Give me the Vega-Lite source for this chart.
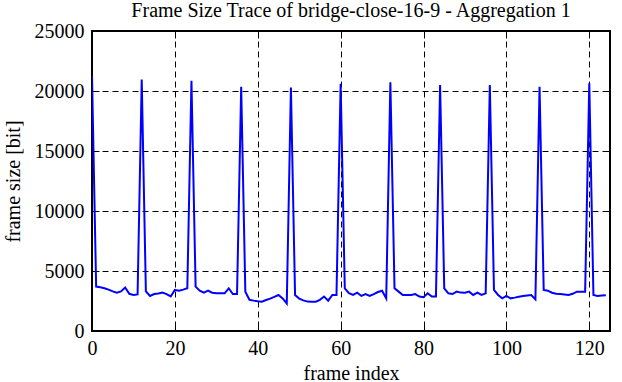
{
  "$schema": "https://vega.github.io/schema/vega-lite/v6.json",
  "width": 518,
  "height": 300,
  "autosize": {"type": "none"},
  "padding": {"left": 92, "top": 31, "right": 12, "bottom": 51},
  "title": {
    "text": "Frame Size Trace of bridge-close-16-9 - Aggregation 1",
    "fontSize": 20,
    "font": "Liberation Serif",
    "fontWeight": "normal",
    "color": "black",
    "baseline": "alphabetic",
    "offset": 4,
    "dy": 20,
    "anchor": "middle"
  },
  "config": {
    "font": "Liberation Serif",
    "view": {"stroke": "black", "strokeWidth": 2},
    "axis": {
      "labelFont": "Liberation Serif",
      "titleFont": "Liberation Serif",
      "labelFontSize": 20,
      "titleFontSize": 20,
      "titleFontWeight": "normal",
      "labelColor": "black",
      "titleColor": "black",
      "tickColor": "black",
      "tickWidth": 1,
      "tickSize": -7,
      "domain": false,
      "gridColor": "black",
      "gridDash": [6, 4],
      "gridWidth": 1,
      "gridOpacity": 1,
      "labelFlush": false,
      "labelOverlap": false
    }
  },
  "data": {
    "values": [
      {"frame": 0, "size": 21300}, {"frame": 1, "size": 3700}, {"frame": 2, "size": 3650}, {"frame": 3, "size": 3560},
      {"frame": 4, "size": 3450}, {"frame": 5, "size": 3300}, {"frame": 6, "size": 3190}, {"frame": 7, "size": 3300},
      {"frame": 8, "size": 3620}, {"frame": 9, "size": 3100}, {"frame": 10, "size": 3000}, {"frame": 11, "size": 3050},
      {"frame": 12, "size": 20950}, {"frame": 13, "size": 3300}, {"frame": 14, "size": 2920}, {"frame": 15, "size": 3080},
      {"frame": 16, "size": 3120}, {"frame": 17, "size": 3200}, {"frame": 18, "size": 3080}, {"frame": 19, "size": 2880},
      {"frame": 20, "size": 3420}, {"frame": 21, "size": 3360}, {"frame": 22, "size": 3450}, {"frame": 23, "size": 3560},
      {"frame": 24, "size": 20850}, {"frame": 25, "size": 3700}, {"frame": 26, "size": 3360}, {"frame": 27, "size": 3200},
      {"frame": 28, "size": 3360}, {"frame": 29, "size": 3190}, {"frame": 30, "size": 3140}, {"frame": 31, "size": 3140},
      {"frame": 32, "size": 3140}, {"frame": 33, "size": 3560}, {"frame": 34, "size": 3080}, {"frame": 35, "size": 3080},
      {"frame": 36, "size": 20350}, {"frame": 37, "size": 3280}, {"frame": 38, "size": 2600}, {"frame": 39, "size": 2530},
      {"frame": 40, "size": 2470}, {"frame": 41, "size": 2440}, {"frame": 42, "size": 2580}, {"frame": 43, "size": 2700},
      {"frame": 44, "size": 2850}, {"frame": 45, "size": 3000}, {"frame": 46, "size": 2720}, {"frame": 47, "size": 2300},
      {"frame": 48, "size": 20300}, {"frame": 49, "size": 3000}, {"frame": 50, "size": 2700}, {"frame": 51, "size": 2550},
      {"frame": 52, "size": 2450}, {"frame": 53, "size": 2440}, {"frame": 54, "size": 2440}, {"frame": 55, "size": 2600},
      {"frame": 56, "size": 2870}, {"frame": 57, "size": 2530}, {"frame": 58, "size": 3000}, {"frame": 59, "size": 3000},
      {"frame": 60, "size": 20600}, {"frame": 61, "size": 3560}, {"frame": 62, "size": 3150}, {"frame": 63, "size": 3000},
      {"frame": 64, "size": 3190}, {"frame": 65, "size": 2920}, {"frame": 66, "size": 3080}, {"frame": 67, "size": 2920},
      {"frame": 68, "size": 3080}, {"frame": 69, "size": 3250}, {"frame": 70, "size": 3360}, {"frame": 71, "size": 2720},
      {"frame": 72, "size": 20720}, {"frame": 73, "size": 3560}, {"frame": 74, "size": 3280}, {"frame": 75, "size": 3000},
      {"frame": 76, "size": 3000}, {"frame": 77, "size": 3000}, {"frame": 78, "size": 3080}, {"frame": 79, "size": 2870},
      {"frame": 80, "size": 2810}, {"frame": 81, "size": 3140}, {"frame": 82, "size": 2870}, {"frame": 83, "size": 2870},
      {"frame": 84, "size": 20500}, {"frame": 85, "size": 3560}, {"frame": 86, "size": 3140}, {"frame": 87, "size": 3080},
      {"frame": 88, "size": 3280}, {"frame": 89, "size": 3200}, {"frame": 90, "size": 3190}, {"frame": 91, "size": 3280},
      {"frame": 92, "size": 3000}, {"frame": 93, "size": 3190}, {"frame": 94, "size": 3000}, {"frame": 95, "size": 3140},
      {"frame": 96, "size": 20500}, {"frame": 97, "size": 3420}, {"frame": 98, "size": 3000}, {"frame": 99, "size": 2720},
      {"frame": 100, "size": 2920}, {"frame": 101, "size": 2720}, {"frame": 102, "size": 2780}, {"frame": 103, "size": 2850},
      {"frame": 104, "size": 2920}, {"frame": 105, "size": 2960}, {"frame": 106, "size": 3000}, {"frame": 107, "size": 2640},
      {"frame": 108, "size": 20350}, {"frame": 109, "size": 3420}, {"frame": 110, "size": 3360}, {"frame": 111, "size": 3190},
      {"frame": 112, "size": 3100}, {"frame": 113, "size": 3080}, {"frame": 114, "size": 3040}, {"frame": 115, "size": 3000},
      {"frame": 116, "size": 3100}, {"frame": 117, "size": 3280}, {"frame": 118, "size": 3280}, {"frame": 119, "size": 3280},
      {"frame": 120, "size": 20650}, {"frame": 121, "size": 3000}, {"frame": 122, "size": 2920}, {"frame": 123, "size": 2950},
      {"frame": 124, "size": 2970}
    ]
  },
  "layer": [
    {
      "mark": {"type": "line", "color": "#0000ff", "strokeWidth": 2, "clip": true},
      "encoding": {
        "x": {
          "field": "frame",
          "type": "quantitative",
          "scale": {"domain": [0, 125], "nice": false, "zero": false},
          "axis": {
            "orient": "bottom",
            "values": [0, 20, 40, 60, 80, 100, 120],
            "format": "d",
            "grid": true,
            "labelFont": "Liberation Serif",
            "labelFontSize": 20,
            "labelPadding": 14,
            "title": "frame index",
            "titleFont": "Liberation Serif",
            "titleY": 48,
            "titleBaseline": "alphabetic"
          }
        },
        "y": {
          "field": "size",
          "type": "quantitative",
          "scale": {"domain": [0, 25000], "nice": false},
          "axis": {
            "orient": "left",
            "values": [0, 5000, 10000, 15000, 20000, 25000],
            "format": "d",
            "grid": true,
            "labelFont": "Liberation Serif",
            "labelFontSize": 20,
            "labelPadding": 15,
            "title": "frame size [bit]",
            "titleFont": "Liberation Serif",
            "titleX": -79,
            "titleY": 150,
            "titleAngle": -90,
            "titleBaseline": "middle"
          }
        }
      }
    },
    {
      "mark": {"type": "line", "opacity": 0},
      "encoding": {
        "x": {
          "field": "frame",
          "type": "quantitative",
          "scale": {"domain": [0, 125], "nice": false, "zero": false},
          "axis": {"orient": "top", "values": [0, 20, 40, 60, 80, 100, 120], "labels": false, "grid": false, "title": null}
        },
        "y": {
          "field": "size",
          "type": "quantitative",
          "scale": {"domain": [0, 25000], "nice": false},
          "axis": {"orient": "right", "values": [0, 5000, 10000, 15000, 20000, 25000], "labels": false, "grid": false, "title": null}
        }
      }
    }
  ],
  "resolve": {"axis": {"x": "independent", "y": "independent"}}
}
